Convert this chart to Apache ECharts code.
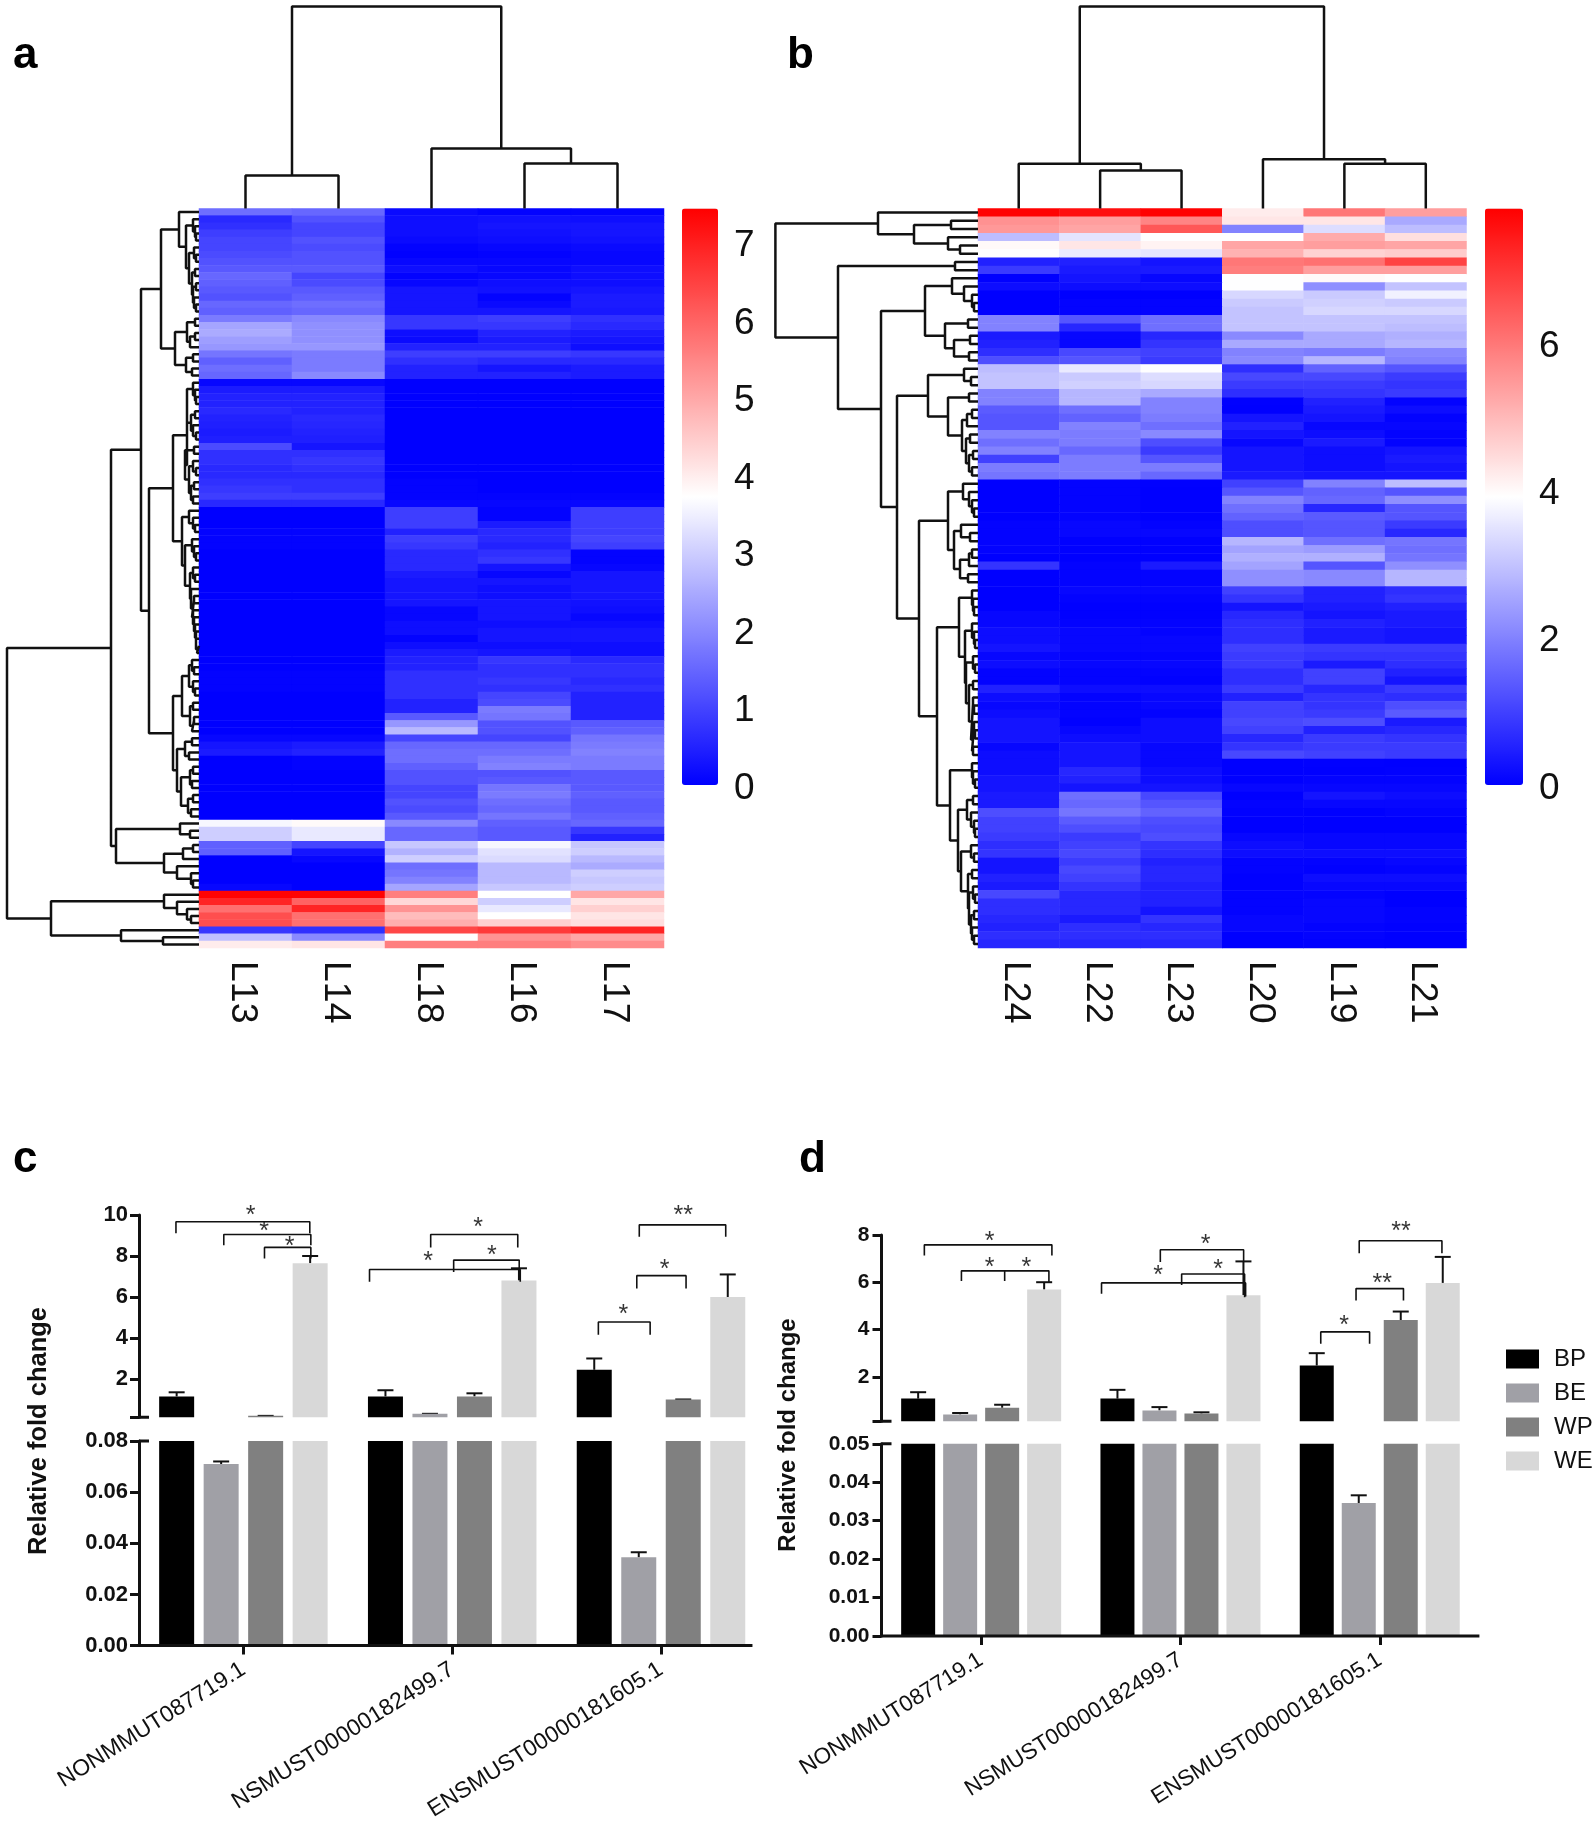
<!DOCTYPE html>
<html><head><meta charset="utf-8"><title>Heatmaps and qPCR validation</title>
<style>html,body{margin:0;padding:0;background:#fff}#c{width:1596px;height:1821px}</style>
<script src="https://cdn.jsdelivr.net/npm/echarts@6/dist/echarts.min.js"></script></head>
<body><div id="c"></div>
<script>
const colsA=['L13','L14','L18','L16','L17'];
const heatA=[[1.6,1.5,.15,.05,.05],[.6,1.2,.2,.25,.2],[.7,1,.2,.3,.3],[.9,1,.2,.25,.3],[1,1.2,.15,.2,.25],[1,1.1,.05,.1,.15],[1.1,1.2,.02,.05,.1],[1.2,1.2,.1,.1,.1],[1.3,1.3,.2,.1,.2],[1.5,1,.05,.1,.2],[1.4,1.1,.1,.2,.2],[1.3,1.3,.3,.25,.3],[1.2,1.4,.3,.05,.4],[1.5,1.6,.3,.15,.4],[1.4,1.5,.3,.3,.35],
[1.8,2,.8,.9,.7],[2.4,2.1,.8,.8,.6],[2.5,2.1,.2,.5,.4],[2.3,2.1,.15,.4,.3],[2.2,2.2,.5,.5,.2],[1.7,1.8,.9,.9,.8],[1.4,1.8,.7,.6,.6],[1.6,1.8,.5,.3,.4],[1.5,2,.5,.5,.4],
[.1,.1,0,0,0],[.4,.4,0,0,0],[.5,.5,0,0,0],[.5,.5,0,0,0],[.6,.5,0,0,0],[.5,.6,0,0,0],[.45,.55,0,0,0],[.4,.5,0,0,0],[.45,.45,0,0,0],[1.1,.3,0,0,0],[.7,.7,0,0,0],[.7,.8,0,0,0],[.6,.7,0,0,0],[.6,.6,0,0,0],[.7,.7,.05,0,0],[.8,.7,.05,0,0],[.9,.9,.05,.05,.05],[.6,.6,.1,.1,.1],
[0,0,.9,.05,.9],[0,0,.9,.05,.9],[0,0,.9,.4,.9],[.05,.05,.5,.6,.9],[.05,.05,.9,.6,1],[.05,.05,.8,.5,.9],[0,0,.6,.7,.05],[0,0,.6,.8,.05],[0,0,.6,.3,.1],[0,0,.4,.1,.3],[0,0,.3,.3,.3],[0,0,.3,.2,.3],[0,0,.3,.2,.3],[0,0,.3,.3,.25],[0,0,.1,.3,.2],[0,0,.1,.3,.1],[0,0,.2,.2,.2],[0,0,.2,.3,.3],[0,0,.05,.3,.3],[0,0,.2,.2,.2],[0,0,.4,.3,.2],
[0,0,.5,.8,.6],[0,0,.5,.7,.7],[.05,.05,.7,.7,.7],[.05,.05,.7,.8,.6],[.05,.05,.7,.7,.7],[0,0,.7,1,.5],[0,0,.5,1.1,.5],[0,0,.5,1.8,.5],[0,0,1.3,1.7,.5],[0,0,2.2,1.2,1.3],[0,0,2.7,1.2,1.4],[.1,.1,1,1,1.7],[.3,.4,1.5,1.5,1.8],[.4,.5,1.6,1.6,1.9],[0,.05,1.6,1.8,1.8],[0,.05,1.4,1.9,1.8],[0,0,1.2,1.2,1.3],[0,0,1.2,1.3,1.3],[0,0,1,1.7,1.3],[0,0,1,1.8,1.4],[0,0,1.2,1.6,1.3],[0,0,1.1,1.5,1.3],[0,0,1.3,1.7,1.4],
[3.6,3.8,2,1.4,1.5],[3,3.4,1.5,1.3,.8],[3,3.4,1.5,1.3,.5],[1.4,1,2.9,3.6,2.9],[1.4,.3,2.6,3.3,3],[0,.1,3,3.2,2.7],[0,0,1.6,2.7,2.5],[0,0,1.7,2.7,3],[0,0,1.9,2.7,2.9],[.1,0,2.4,2.9,3],
[7.4,7.4,5.6,3.72,5],[6.9,6,4.3,3,4.1],[5.8,6.9,5.3,3.4,4.4],[6.3,5.8,4.7,3.72,4.1],[6.3,5.8,4.9,4.4,4.2],[.8,.7,6.4,6.6,6.9],[2.8,2,3.72,5.3,5],[4,4.1,5.6,5.6,5.4]];
const colTreeA=[202,[33,1,1],[60,1,[45,1,1]]];
const rowTreeA=[192,[88,[58,[38,[20,1,[13,[6,1,[4,1,[3,1,1]]],[10,[5,1,[3,1,1]],[7,[4,1,1],[6,[3,1,1],[5,1,[3,1,1]]]]]]],[24,[12,[4,1,1],[9,[4,1,1],1]],[13,[6,1,1],[7,1,1]]]],
[50,[26,[12,[12,[6,1,[4,1,[3,1,1]]],[8,[4,1,1],[6,1,[3,1,1]]]],[14,[5,1,1],[10,[6,1,[3,1,1]],[8,[5,1,1],[6,1,1]]]]],[17,[10,1,[6,1,[4,1,1]]],[14,[7,1,[5,1,[3,1,1]]],[9,[6,1,[4,1,1]],[8,1,[7,[5,1,1],[6,1,[5,1,[4,1,[3,1,[3,1,[2,1,1]]]]]]]]]]]],
[26,[17,[10,[7,1,[5,1,1]],[6,1,[4,1,1]]],[9,[6,1,1],[7,[5,1,1],1]]],[22,[14,[7,1,1],[10,1,1]],[18,[9,[6,1,1],[7,1,1]],[11,[6,1,1],[8,1,1]]]]]]],
[83,[19,1,[9,1,1]],[35,[16,[6,1,1],1],[22,1,[8,1,[6,1,1]]]]]],[148,[35,1,[22,1,[12,1,[8,1,1]]]],[78,1,[36,1,1]]]];

const colsB=['L24','L22','L23','L20','L19','L21'];
const heatB=[[7.8,7.6,7.8,4.2,6,5.4],[5.6,5.4,5.8,4.3,4.3,2.6],[5.5,5.3,6.5,2,3.4,2.9],[2.9,3.5,3.9,3.9,5.2,4.4],[4,4.3,4.1,5.3,5.4,5.3],[3.9,3.6,3.5,5.1,4.6,4.7],[.5,.5,.3,6,6.1,6.8],[.9,.4,.4,5.9,5.4,5.4],[.02,.3,.1,3.9,4,3.9],[.2,.2,.2,3.9,2.2,3],[0,0,0,3.3,3.1,3.7],[0,.05,.05,3.1,3.2,3.1],[0,.05,.05,3,3.3,3.3],
[2,1.3,1.7,3,3,3],[2,.6,1.7,3,3,2.9],[.4,.1,.6,2.1,2.6,2.7],[.5,.1,.8,2.6,2.6,2.8],[.7,1.1,1,2,1.9,2.1],[1.2,1.3,.9,2.1,2.8,2],[2.9,3.6,3.9,.7,1.5,1.3],[3,3.1,3.4,1.1,1.1,.9],[3,3.2,3.3,.9,.9,.8],[2,2.8,2.6,.7,.8,.9],[2,2.8,2,.02,.5,.05],[1.4,1.7,2,0,.4,.2],[1.3,1.5,1.9,.3,.3,.05],[1.3,2,1.7,.5,.1,.1],[2,1.9,2.1,.3,.2,.05],[1.7,1.9,1.2,.1,.4,.05],[2,1.6,.9,.3,.2,.3],[1,1.9,1.3,.3,.2,.4],[1.9,1.9,1.9,.3,.2,.3],[1.8,1.9,1.6,.4,.3,.3],
[0,.05,.02,1,2,2.9],[0,.05,0,1.3,1.5,1.3],[0,.05,0,2,1.6,2.2],[0,.05,0,1.7,.6,1.3],[0,.05,0,1.5,1.4,1.3],[.05,.1,.05,1.2,1.3,.9],[.05,.1,.1,1.2,1.3,.6],[.05,.02,.02,2.8,1.7,1.8],[.05,.02,.02,2.5,2.4,1.7],[0,0,0,2.7,2.7,1.8],[.8,.05,.4,2.5,1.3,2.2],[0,.05,.05,2.2,2.1,2.8],[0,.05,.05,2.2,2.1,2.8],
[0,.1,.1,1,.5,.7],[0,.05,.05,.8,.5,.8],[0,.02,.02,.3,.4,.5],[.1,.02,.02,.6,.3,.4],[.1,.05,.05,.7,.5,.4],[.2,.1,.05,.7,.4,.3],[.2,.1,.1,.7,.4,.3],[.3,.1,.1,1,.9,.9],[.1,.05,.05,.9,.8,.8],[.2,.1,.1,.9,.4,.7],[.05,.05,.05,.7,1,.5],[.05,.05,.02,.7,1,.3],[.5,.2,.2,.9,.6,.9],[.2,.05,.1,.5,.8,.7],[.1,.05,.1,1,.8,1.2],[.2,.05,.05,1,.9,1.4],[.3,.02,.2,1.1,1.2,.4],[.3,.1,.2,1,.5,.6],[.3,.2,.2,.6,.9,.8],[.1,.3,.1,.8,.9,.9],[.2,.3,.1,1.1,1,.9],
[.2,.3,.1,0,.02,0],[.2,.6,.2,0,0,.02],[.3,.5,.2,0,.05,.05],[.3,.3,.3,.1,.1,.1],[.4,1.7,1.1,0,.3,.2],[.4,1.6,1.3,.05,.1,.1],[1.2,1.8,1.5,.02,0,.05],[1,1.4,1.2,0,0,0],[1,1.2,1.1,0,0,0],[.9,.9,1.2,.1,.1,.1],[.7,1,.8,.2,.1,.1],[.8,1.1,.7,.2,.2,.2],[.3,.9,.5,.05,.05,.1],[.3,1.1,.6,.05,.02,.05],[.5,1,.6,.02,.2,.2],[.4,.8,.5,.02,.1,.1],[1.1,.6,.5,.05,.05,0],[.7,.6,.5,.05,.1,0],[.7,.6,.3,.05,.1,.05],[.6,.4,.8,.1,.1,.05],[.5,.7,.6,.1,.05,.02],[.7,.7,.7,0,.05,0],[.6,.6,.6,0,.02,0]];
const colTreeB=[202,[44.7,1,[38,1,1]],[49.3,1,[44.7,1,1]]];
const rowTreeB=[202.6,[100,1,[64,[27,1,1],[30,1,[18,1,1]]]],[140,[23,1,1],[97,[53,[26,1,[14,1,[6,1,[4,1,1]]]],[33,[10,1,1],[24,[8,1,1],[9,1,1]]]],
[81,[50,[14,1,[7,1,1]],[30,[9,1,1],[16,[11,[6,1,1],1],[12,[8,1,1],[9,[5,1,1],[6,1,1]]]]]],
[59,[30,[15,1,[9,1,[6,1,[4,1,1]]]],[24,[17,1,[8,1,1]],[18,[9,[6,1,1],1],[10,1,1]]]],
[41,[19,[6,1,[5,1,[4,1,1]]],[13,[6,1,[4,1,[3,1,1]]],[12,[5,1,[3,1,1]],[9,[5,1,1],[7,[5,1,[4,1,1]],[6,[4,1,[3,1,1]],[5,1,1]]]]]]],
[28,[6,1,[5,1,[3,1,1]]],[20,[11,[5,1,1],[7,1,[4,1,[3,1,1]]]],[17,[7,1,[4,1,1]],[10,[6,1,1],[9,[5,1,[3,1,1]],[7,[4,1,1],[6,1,[4,1,1]]]]]]]]]]]]]];

const genes=['NONMMUT087719.1','NSMUST00000182499.7','ENSMUST00000181605.1'];
const groups=['BP','BE','WP','WE'];
const groupColors=['#000000','#a0a0a6','#808080','#d8d8d8'];
const meansC=[[1.15,1.15,2.45],[.071,.3,.0345],[.2,1.15,1],[7.65,6.8,6]];
const errTopC=[[1.35,1.45,3],[.072,.3,.0365],[.2,1.3,1],[8,7.4,7.1]];
const meansD=[[1.08,1.08,2.48],[.41,.58,.0346],[.69,.45,4.4],[5.69,5.45,5.97]];
const errTopD=[[1.35,1.45,3],[.47,.72,.0366],[.82,.5,4.76],[6,6.88,7.07]];
const upTicksC=[2,4,6,8,10];
const upTicksD=[2,4,6,8];
// x1, x2, top, left foot, right foot, stars, star x, star y
const bracketsC=[[-.323,.318,9.67,9.11,9.11,'*',.035,10.19],[-.094,.323,9.05,8.53,8.53,'*',.099,9.39],[.101,.323,8.42,7.88,7.88,'*',.221,8.68],[.897,1.314,9.05,8.42,8.42,'*',1.124,9.59],[1.007,1.321,7.8,7.22,6.85,'*',1.19,8.25],[.604,1.326,7.34,6.74,6.74,'*',.885,7.93],[1.896,2.31,9.52,8.94,8.94,'**',2.107,10.19],[1.884,2.12,7.04,6.42,6.42,'*',2.017,7.56],[1.7,1.948,4.78,4.16,4.16,'*',1.82,5.38]];
const bracketsD=[[-.285,.355,7.58,7.13,7.13,'*',.042,7.91],[-.099,.34,6.48,6.05,6.01,'*',.042,6.79],[.118,.34,6.48,6.05,6.01,'*',.227,6.79],[.899,1.317,7.37,6.85,6.85,'*',1.126,7.8],[1.006,1.322,6.35,5.88,5.36,'*',1.189,6.72],[.604,1.327,5.97,5.51,5.4,'*',.888,6.48],[1.897,2.312,7.75,7.22,7.22,'**',2.106,8.31],[1.881,2.119,5.73,5.23,5.23,'**',2.012,6.14],[1.704,1.949,3.9,3.4,3.4,'*',1.821,4.37]];

const FONT='"Liberation Sans", Arial, sans-serif', INK='#111';
const grid=[],xAxis=[],yAxis=[],series=[],visualMap=[],graphic=[];
function addAxes(g,x,y){grid.push({outerBoundsMode:'none',...g});const gi=grid.length-1;xAxis.push({gridIndex:gi,...x});yAxis.push({gridIndex:gi,...y});return{g:gi,x:xAxis.length-1,y:yAxis.length-1}}
const hidden={show:false};
function treeSegments(tree,horizontal){const out=[];let c=0;
  const p=(pos,h)=>horizontal?[h,pos]:[pos,h];
  (function walk(n){if(n===1)return{pos:c++,h:0};const a=walk(n[1]),b=walk(n[2]);
    out.push(p(a.pos,a.h),p(a.pos,n[0]),p(b.pos,n[0]),p(b.pos,b.h),[null,null]);
    return{pos:(a.pos+b.pos)/2,h:n[0]}})(tree);return out}
function lineSeries(data,xi,yi,width){series.push({type:'line',xAxisIndex:xi,yAxisIndex:yi,data,symbol:'none',clip:false,silent:true,connectNulls:false,animation:false,lineStyle:{color:INK,width},itemStyle:{color:INK}})}

function heatPanel(cols,rows,colTree,rowTree,max,L,W,treeLeft,barL,barW,tickStep){
  const T=208.5,H=739.5,treeH=202;
  const i=addAxes({left:L,top:T,width:W,height:H},
    {type:'category',data:cols,show:false,splitArea:hidden},
    {type:'category',inverse:true,data:rows.map((_,k)=>String(k)),show:false,splitArea:hidden});
  addAxes({left:L-3,top:T,width:W,height:H},
    {type:'category',data:cols,position:'bottom',axisLine:hidden,axisTick:hidden,splitLine:hidden,axisLabel:{rotate:-90,fontFamily:FONT,fontSize:37.5,color:INK,margin:13}},
    {type:'value',show:false,min:0,max:1});
  const data=[];rows.forEach((r,y)=>r.forEach((v,x)=>data.push([x,y,v])));
  series.push({type:'heatmap',xAxisIndex:i.x,yAxisIndex:i.y,data,silent:true,animation:false,progressive:0,itemStyle:{borderWidth:0}});
  visualMap.push({type:'continuous',min:0,max,seriesIndex:series.length-1,left:barL,top:T,itemWidth:barW,itemHeight:576.5,padding:0,calculable:false,realtime:false,inRange:{color:['#0000ff','#ffffff','#ff0000']},hoverLink:false,text:['','']});
  const t=addAxes({left:L,top:T-treeH,width:W,height:treeH},{type:'value',min:-.5,max:cols.length-.5,show:false},{type:'value',min:0,max:treeH,show:false});
  lineSeries(treeSegments(colTree,false),t.x,t.y,2.5);
  const r=addAxes({left:treeLeft,top:T,width:L-treeLeft,height:H},{type:'value',inverse:true,min:0,max:L-treeLeft,show:false},{type:'value',inverse:true,min:-.5,max:rows.length-.5,show:false});
  lineSeries(treeSegments(rowTree,true),r.x,r.y,2.5);
  addAxes({left:barL+barW,top:T+3.5,width:1,height:576.5},{type:'value',show:false,min:0,max:1},
    {type:'value',position:'right',min:0,max,interval:tickStep,splitLine:hidden,axisLine:hidden,axisTick:hidden,
     axisLabel:{fontFamily:FONT,fontSize:37,color:INK,margin:15,showMaxLabel:false,showMinLabel:true}});
}
heatPanel(colsA,heatA,colTreeA,rowTreeA,7.44,199,465,7,682,36,1);
heatPanel(colsB,heatB,colTreeB,rowTreeB,7.83,978,488.5,775,1485,38,2);

function barPanel(o){
  const {left,period,upTop,upBot,loTop,loBot,upMin,upMax,loMax,loStep,upTicks,means,errs,brackets,barW,step,fs,xEnd,xFs,labMargin}=o;
  const W=period*3;
  const yLab={fontFamily:FONT,fontSize:fs,fontWeight:'bold',color:INK,margin:labMargin};
  const axisLine={show:true,onZero:false,lineStyle:{color:INK,width:3}};
  const tick={show:true,length:9,lineStyle:{color:INK,width:3}};
  const up=addAxes({left,top:upTop,width:W,height:upBot-upTop},{type:'category',data:genes,show:false},
    {type:'value',min:upMin,max:upMax,splitLine:hidden,axisLine,axisTick:{...tick,customValues:[upMin,...upTicks]},axisLabel:{...yLab,customValues:upTicks}});
  const lo=addAxes({left,top:loTop,width:W,height:loBot-loTop},
    {type:'category',data:genes,axisLine:hidden,axisTick:{show:true,alignWithLabel:true,length:9,lineStyle:{color:INK,width:3}},
     axisLabel:{rotate:32,interval:0,fontFamily:FONT,fontSize:xFs,color:INK,margin:22}},
    {type:'value',min:0,max:loMax,interval:loStep,splitLine:hidden,axisLine,axisTick:tick,axisLabel:{...yLab,formatter:v=>v.toFixed(2)}});
  // helper value x-axes share the same grids: gene centres at 0,1,2
  const helperX=g=>{xAxis.push({gridIndex:g,type:'value',min:-.5,max:2.5,show:false});return xAxis.length-1};
  const upX=helperX(up.g),loX=helperX(lo.g);
  [up,lo].forEach(a=>groups.forEach((name,s)=>series.push({type:'bar',name,xAxisIndex:a.x,yAxisIndex:a.y,data:means[s],barWidth:barW,barGap:((step-barW)/barW*100)+'%',itemStyle:{color:groupColors[s]},silent:true,animation:false})));
  const errSeries=(a,test)=>{const d=[];groups.forEach((_,s)=>means[s].forEach((m,c)=>{if(test(m,errs[s][c]))d.push([c,s,m,errs[s][c]])}));
    series.push({type:'custom',xAxisIndex:a.x,yAxisIndex:a.y,data:d,silent:true,animation:false,clip:false,encode:{x:0,y:2},renderItem:(p,api)=>{
      const off=(api.value(1)-1.5)*step,b0=api.coord([api.value(0),api.value(2)]),b=api.coord([api.value(0),api.value(3)]);
      const x=b0[0]+off,st={stroke:INK,lineWidth:2};
      return{type:'group',children:[{type:'line',shape:{x1:x,y1:b0[1],x2:x,y2:b[1]},style:st},{type:'line',shape:{x1:x-8,y1:b[1],x2:x+8,y2:b[1]},style:st}]}}})};
  errSeries(up,m=>m>upMin);errSeries(lo,(m,e)=>e<loMax);
  const seg=[];brackets.forEach(b=>seg.push([b[0],b[3]],[b[0],b[2]],[b[1],b[2]],[b[1],b[4]],[null,null]));
  lineSeries(seg,upX,up.y,1.6);
  series.push({type:'scatter',xAxisIndex:upX,yAxisIndex:up.y,symbolSize:0,clip:false,silent:true,animation:false,
    data:brackets.map(b=>({value:[b[6],b[7]],name:b[5]})),
    label:{show:true,position:'inside',formatter:'{b}',fontFamily:FONT,fontSize:25,color:'#000',offset:[0,5]}});
  lineSeries([[-.5,upMin],[-.5+10/period,upMin]],upX,up.y,3);
  lineSeries([[-.5,loMax],[-.5+10/period,loMax]],loX,lo.y,3);
  lineSeries([[-.5,0],[xEnd,0]],loX,lo.y,3);
}
barPanel({left:139,period:208.8,upTop:1215,upBot:1417.3,loTop:1441,loBot:1645.6,upMin:.13,upMax:10,loMax:.08,loStep:.02,upTicks:upTicksC,means:meansC,errs:errTopC,brackets:bracketsC,barW:35,step:44.5,fs:22,xFs:23,xEnd:2.438,labMargin:11});
barPanel({left:881.5,period:199.3,upTop:1234.9,upBot:1421.3,loTop:1443.8,loBot:1636,upMin:.12,upMax:8,loMax:.05,loStep:.01,upTicks:upTicksD,means:meansD,errs:errTopD,brackets:bracketsD,barW:34,step:42,fs:21,xFs:22.5,xEnd:2.5,labMargin:12});

const letter=(t,x,y)=>graphic.push({type:'text',x,y,style:{text:t,font:'bold 44px '+FONT,fill:'#000',textAlign:'left',textVerticalAlign:'middle'}});
letter('a',13,55.5);letter('b',787,55.5);letter('c',13,1160);letter('d',799,1159.5);
const yTitle=(x,y,fs)=>graphic.push({type:'text',x,y,rotation:Math.PI/2,style:{text:'Relative fold change',font:'bold '+fs+'px '+FONT,fill:INK,textAlign:'center',textVerticalAlign:'middle'}});
yTitle(39,1431,25.5);yTitle(788,1435,24);

const chart=echarts.init(document.getElementById('c'),null,{renderer:'canvas'});
chart.setOption({animation:false,backgroundColor:'#fff',grid,xAxis,yAxis,series,visualMap,graphic,
  legend:{data:groups,orient:'vertical',left:1506,top:1347,itemWidth:33,itemHeight:19,itemGap:10,selectedMode:false,padding:0,icon:'rect',textStyle:{fontFamily:FONT,fontSize:24,color:INK,padding:[0,0,0,10],lineHeight:24}},
  tooltip:{show:false}});
</script></body></html>
